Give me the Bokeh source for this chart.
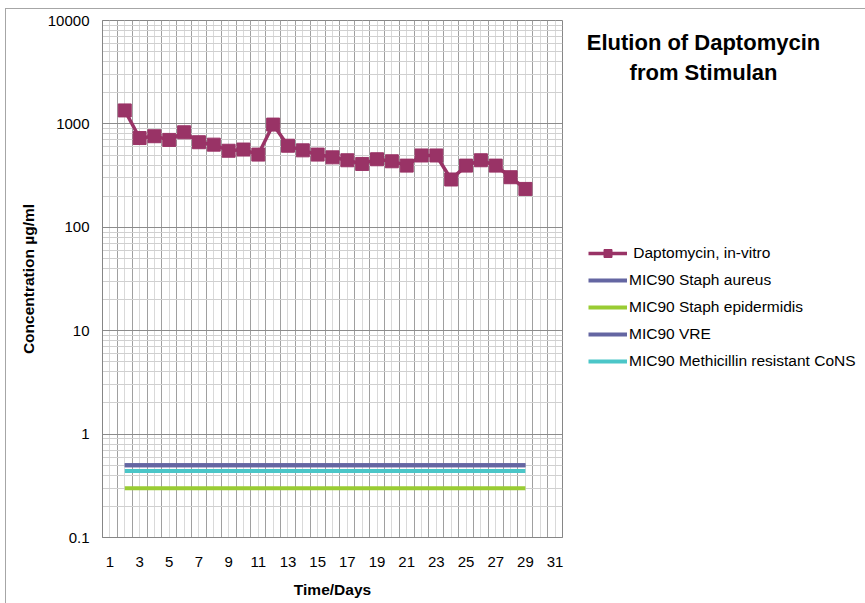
from bokeh.plotting import figure
from bokeh.layouts import row
from bokeh.models import (Range1d, FixedTicker, CustomJSTickFormatter, Legend, LegendItem, Label)
from bokeh.embed import file_html
from bokeh.resources import INLINE
import numpy as np

# ---- data ----
days = list(range(2, 30))
daptomycin = [1350, 730, 760, 700, 830, 665, 630, 550, 565, 505, 985, 615, 555,
              505, 475, 445, 410, 455, 435, 395, 495, 495, 290, 395, 445, 395, 305, 235]
mic_staph_aureus = 0.5
mic_staph_epidermidis = 0.3
mic_vre = 0.5
mic_mrcons = 0.44
x_tick_labels = list(range(1, 32, 2))
y_decades = [0.1, 1, 10, 100, 1000, 10000]
series_names = [" Daptomycin, in-vitro", "MIC90 Staph aureus", "MIC90 Staph epidermidis",
                "MIC90 VRE", "MIC90 Methicillin resistant CoNS"]
title_lines = ["Elution of Daptomycin", "from Stimulan"]

FONT = "Liberation Sans"
purple = "#6466a2"
green = "#99cc33"
cyan = "#4bc6c8"
maroon = "#993366"
hline = "linear-gradient(#a6a6a6,#a6a6a6)"

# ---------------- main chart ----------------
p = figure(frame_width=460, frame_height=517, output_backend="svg", toolbar_location=None,
           y_axis_type="log", x_range=Range1d(0.5, 31.5), y_range=Range1d(0.1, 10000),
           min_border_left=102, min_border_right=2, min_border_top=20, min_border_bottom=66)

p.outline_line_color = "#868686"
p.outline_line_width = 1
p.background_fill_color = "white"
p.border_fill_color = None
p.styles = {
    "background-color": "white",
    "background-image": f"{hline}, {hline}",
    "background-size": "100% 1px, 1px 100%",
    "background-position": "5px 8px, 5px 8px",
    "background-repeat": "no-repeat",
}

cat_bounds = list(np.arange(0.5, 32, 1.0))
cat_centers = list(range(1, 32))
p.xgrid.ticker = FixedTicker(ticks=cat_bounds, minor_ticks=cat_centers)
p.xgrid.grid_line_color = "#a0a0a0"
p.xgrid.minor_grid_line_color = "#d9d9d9"

minor_y = [m * d for d in y_decades[:-1] for m in range(2, 10)]
p.ygrid.ticker = FixedTicker(ticks=y_decades, minor_ticks=minor_y)
p.ygrid.grid_line_color = "#8c8c8c"
p.ygrid.minor_grid_line_color = "#d0d0d0"

p.xaxis.ticker = FixedTicker(ticks=x_tick_labels)
p.yaxis.ticker = FixedTicker(ticks=y_decades)
p.yaxis.formatter = CustomJSTickFormatter(code="return tick.toString();")
for ax in (p.xaxis[0], p.yaxis[0]):
    ax.major_tick_out = 0
    ax.major_tick_in = 0
    ax.minor_tick_out = 0
    ax.minor_tick_in = 0
    ax.axis_line_color = "#868686"
    ax.major_label_text_font = FONT
    ax.major_label_text_font_size = "15px"
    ax.major_label_text_color = "black"
    ax.axis_label_text_font = FONT
    ax.axis_label_text_font_size = "15.5px"
    ax.axis_label_text_font_style = "bold"
    ax.axis_label_text_color = "black"
p.xaxis.axis_label = "Time/Days"
p.yaxis.axis_label = "Concentration µg/ml"
p.xaxis.major_label_standoff = 19
p.xaxis.axis_label_standoff = 11
p.yaxis.major_label_standoff = 13
p.yaxis.axis_label_standoff = 8

line_styles = [dict(line_color=maroon, line_width=3.5),
               dict(line_color=purple, line_width=4),
               dict(line_color=green, line_width=4),
               dict(line_color=purple, line_width=4),
               dict(line_color=cyan, line_width=4)]
mic_values = [mic_staph_aureus, mic_staph_epidermidis, mic_vre, mic_mrcons]
for val, st in zip(mic_values, line_styles[1:]):
    p.line(days, [val] * len(days), **st)
p.line(days, daptomycin, **line_styles[0])
p.scatter(days, daptomycin, marker="square", size=13, fill_color=maroon, line_color=maroon)

# ---------------- title + legend panel (frame aligned with the chart's frame) ----------------
p2 = figure(width=301, height=603, output_backend="svg", toolbar_location=None,
            x_range=Range1d(0, 1), y_range=Range1d(0, 1),
            x_axis_location=None, y_axis_location=None, min_border=0)
p2.xgrid.visible = False
p2.ygrid.visible = False
p2.outline_line_color = None
p2.background_fill_color = None
p2.border_fill_color = None
p2.styles = {
    "background-color": "white",
    "background-image": hline,
    "background-size": "100% 1px",
    "background-position": "0px 8px",
    "background-repeat": "no-repeat",
}

for txt, yy in zip(title_lines, (495, 465)):
    p2.add_layout(Label(x=139, y=yy, x_units="screen", y_units="screen", text=txt,
                        text_font=FONT, text_font_size="22px", text_font_style="bold",
                        text_align="center", text_baseline="middle", text_color="black"))

# legend swatches: same series, drawn outside this panel's ranges (so only the legend shows)
series_values = [daptomycin] + [[v] * len(days) for v in mic_values]
items = []
for i, (name, st, vals) in enumerate(zip(series_names, line_styles, series_values)):
    rs = [p2.line(days, vals, **st)]
    if i == 0:
        rs.append(p2.scatter(days, vals, marker="square", size=12,
                             fill_color=maroon, line_color=maroon))
    items.append(LegendItem(label=name, renderers=rs))

legend = Legend(items=items, location=(24, 166))
legend.border_line_color = None
legend.background_fill_alpha = 0
legend.padding = 0
legend.margin = 0
legend.spacing = 7
legend.glyph_width = 39
legend.glyph_height = 20
legend.label_height = 20
legend.label_standoff = 2
legend.label_text_font = FONT
legend.label_text_font_size = "15.5px"
legend.label_text_color = "black"
p2.add_layout(legend, "center")

layout = row(p, p2)
open("out.html", "w").write(file_html(layout, INLINE))
